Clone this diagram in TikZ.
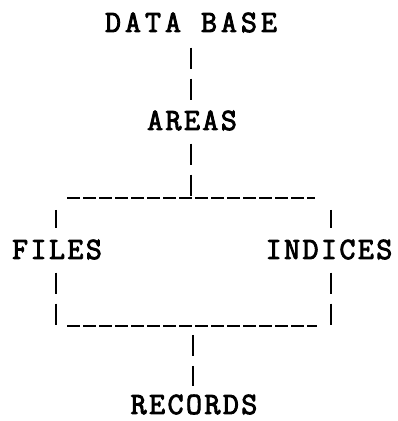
\documentclass[tikz,border=0pt]{standalone}
\usepackage{fontspec}
\newfontfamily\typefont{Latin Modern Mono}[LetterSpace=8, FakeBold=3]
\newfontfamily\widetypefont{Latin Modern Mono}[LetterSpace=13, FakeBold=3]
\usetikzlibrary{positioning}

\begin{document}
\begin{tikzpicture}[x=1pt, y=1pt,
		word/.style={font=\typefont\fontsize{31}{31}\selectfont, inner sep=0pt, anchor=base},
		vline/.style={line width=2.4pt, dash pattern=on 21pt off 10pt},
		hline/.style={line width=2.2pt, dash pattern=on 13pt off 3pt}]
	\useasboundingbox (0,0) rectangle (397,421);

	\node[word, font=\widetypefont\fontsize{31}{31}\selectfont] (db) at (191,389) {DATA BASE};
	\node[word] (areas) at (192,291) {AREAS};
	\node[word] (files) at (57,162) {FILES};
	\node[word] (indices) at (329,162) {INDICES};
	\node[word] (records) at (194,7) {RECORDS};

	\coordinate (top) at (191,223);
	\coordinate (bot) at (193,95);
	\coordinate (lt) at (56,223);
	\coordinate (rt) at (331,223);
	\coordinate (lb) at (56,95);
	\coordinate (rb) at (331,95);

	\draw[vline, shorten <=15pt, shorten >=10pt] (db.south) -- (db.south |- areas.north);
	\draw[vline, shorten <=13pt] (top |- areas.south) -- (top);
	\draw[hline, shorten <=11pt, shorten >=16pt] (lt) -- (rt);
	\draw[vline, shorten <=12pt, shorten >=11pt] (lt) -- (lt |- files.north);
	\draw[vline, shorten <=12pt, shorten >=11pt] (rt) -- (rt |- indices.north);
	\draw[vline, shorten <=13pt] (lb |- files.south) -- (lb);
	\draw[vline, shorten <=13pt] (rb |- indices.south) -- (rb);
	\draw[hline, shorten <=11pt, shorten >=14pt] (lb) -- (rb);
	\draw[vline, shorten <=9pt, shorten >=8pt] (bot) -- (bot |- records.north);
\end{tikzpicture}
\end{document}
